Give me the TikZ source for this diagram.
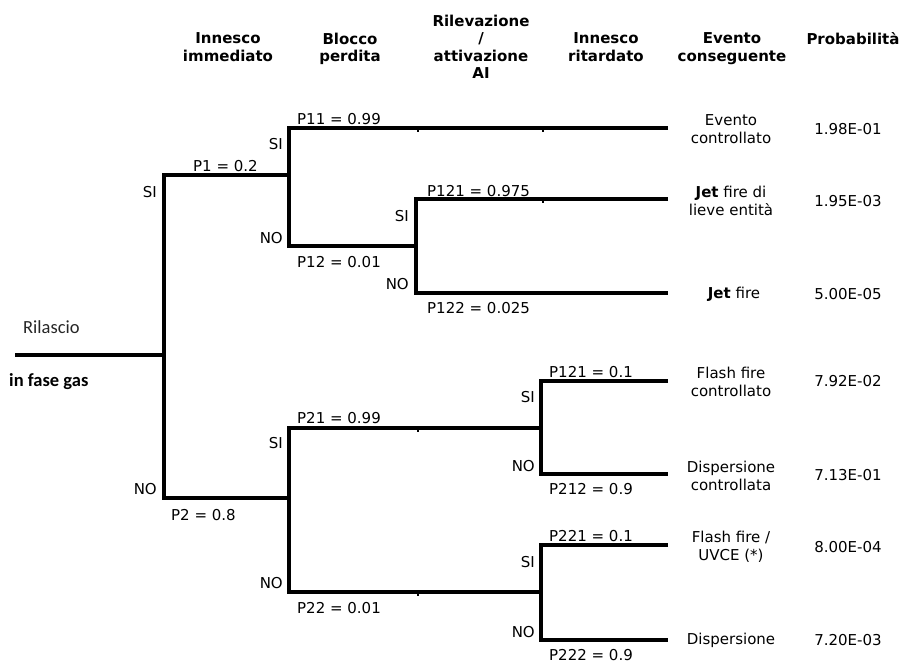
\documentclass[tikz,border=0pt]{standalone}
\usepackage{fontspec}
\setmainfont{DejaVu Sans}
\newfontfamily\calfont{Carlito}
\begin{document}
\begin{tikzpicture}[x=1pt,y=-1pt,
  br/.style={line width=3.2pt, line join=miter, line cap=butt},
  tickmark/.style={line width=1.8pt},
  lab/.style={inner sep=0pt, font=\fontsize{15}{17.5}\selectfont},
  yn/.style={lab, anchor=base east},
  pl/.style={lab, anchor=base west},
  hdr/.style={inner sep=0pt, align=center, anchor=north, font=\fontsize{15}{17.5}\selectfont\bfseries},
  ev/.style={inner sep=0pt, align=center, font=\fontsize{15}{17.5}\selectfont},
  pr/.style={inner sep=0pt, font=\fontsize{15}{17.5}\selectfont},
  rl/.style={inner sep=0pt, anchor=base west, font=\fontsize{18.5}{20}\calfont}]
\useasboundingbox (0,0) rectangle (906,664);

% ---------- headers
\node[hdr] (h1) at (228,32.5) {Innesco\\immediato};
\node[hdr] (h2) at (350,32.5) {Blocco\\perdita};
\node[hdr] (h3) at (481,14.5) {Rilevazione\\/\\attivazione\\AI};
\node[hdr] (h4) at (606,32.5) {Innesco\\ritardato};
\node[hdr] (h5) at (732,32.5) {Evento\\conseguente};
\node[hdr] (h6) at (853,32.5) {Probabilità};

% ---------- tree coordinates
\coordinate (r0) at (15,355);
\coordinate (ra) at (164,355);
\coordinate (at) at (164,175);
\coordinate (ab) at (164,498);
% split B1
\coordinate (b1j) at (289,175);
\coordinate (b1t) at (289,128);
\coordinate (b1b) at (289,246);
% split C1
\coordinate (c1j) at (416,246);
\coordinate (c1t) at (416,199);
\coordinate (c1b) at (416,293);
% split B2
\coordinate (b2j) at (289,498);
\coordinate (b2t) at (289,428);
\coordinate (b2b) at (289,592);
% split D1, D2
\coordinate (d1j) at (541,428);
\coordinate (d1t) at (541,381);
\coordinate (d1b) at (541,474);
\coordinate (d2j) at (541,592);
\coordinate (d2t) at (541,545);
\coordinate (d2b) at (541,640);
% ends
\coordinate (e11) at (668,128);
\coordinate (e121) at (668,199);
\coordinate (e122) at (668,293);
\coordinate (e211) at (668,381);
\coordinate (e212) at (668,474);
\coordinate (e221) at (668,545);
\coordinate (e222) at (668,640);

% ---------- branches
\draw[br] (r0) -- (ra);
\draw[br] (b1j) -- (at) -- (ab) -- (b2j);
\draw[br] (e11) -- (b1t) -- (b1b) -- (c1j);
\draw[br] (e121) -- (c1t) -- (c1b) -- (e122);
\draw[br] (d1j) -- (b2t) -- (b2b) -- (d2j);
\draw[br] (e211) -- (d1t) -- (d1b) -- (e212);
\draw[br] (e221) -- (d2t) -- (d2b) -- (e222);

% small tick marks on the lines
\coordinate (t1) at (418,129); \coordinate (t2) at (543,129);
\coordinate (t3) at (543,200); \coordinate (t4) at (418,429);
\coordinate (t5) at (418,593);
\foreach \t in {t1,t2,t3,t4,t5} \draw[tickmark] (\t) -- ++(0,2.6);

% ---------- SI / NO
\node[yn] (yA) at (157,197) {SI};
\node[yn] (nA) at (157,494) {NO};
\node[yn] (yB1) at (283,149) {SI};
\node[yn] (nB1) at (283,243) {NO};
\node[yn] (yC1) at (409,221) {SI};
\node[yn] (nC1) at (409,289) {NO};
\node[yn] (yB2) at (283,448) {SI};
\node[yn] (nB2) at (283,588) {NO};
\node[yn] (yD1) at (535,402) {SI};
\node[yn] (nD1) at (535,471) {NO};
\node[yn] (yD2) at (535,567) {SI};
\node[yn] (nD2) at (535,637) {NO};

% ---------- probability labels
\node[pl] (p1) at (193,171) {P1 = 0.2};
\node[pl] (p11) at (297,124) {P11 = 0.99};
\node[pl] (p12) at (297,267) {P12 = 0.01};
\node[pl] (p121) at (427,196.5) {P121 = 0.975};
\node[pl] (p122) at (427,313) {P122 = 0.025};
\node[pl] (p2) at (171,520) {P2 = 0.8};
\node[pl] (p21) at (297,423) {P21 = 0.99};
\node[pl] (p22) at (297,613) {P22 = 0.01};
\node[pl] (p211) at (549,377) {P121 = 0.1};
\node[pl] (p212) at (549,494) {P212 = 0.9};
\node[pl] (p221) at (549,541) {P221 = 0.1};
\node[pl] (p222) at (549,660) {P222 = 0.9};

% ---------- release
\node[rl, text=black!85] (rel1) at (23,333) {Rilascio};
\node[rl, font=\fontsize{18.5}{20}\calfont\bfseries] (rel2) at (9,386) {in fase gas};

% ---------- events
\node[ev] (ev1) at (731,129) {Evento\\controllato};
\node[ev] (ev2) at (731,201) {\textbf{Jet} fire di\\lieve entità};
\node[ev] (ev3) at (734,294) {\textbf{Jet} fire};
\node[ev] (ev4) at (731,382) {Flash fire\\controllato};
\node[ev] (ev5) at (731,476) {Dispersione\\controllata};
\node[ev] (ev6) at (731,547) {Flash fire /\\UVCE (*)};
\node[ev] (ev7) at (731,640.5) {Dispersione};

% ---------- frequencies
\node[pr] (f1) at (848,129) {1.98E-01};
\node[pr] (f2) at (848,201.5) {1.95E-03};
\node[pr] (f3) at (848,294) {5.00E-05};
\node[pr] (f4) at (848,381.5) {7.92E-02};
\node[pr] (f5) at (848,475.5) {7.13E-01};
\node[pr] (f6) at (848,547) {8.00E-04};
\node[pr] (f7) at (848,640.5) {7.20E-03};
\end{tikzpicture}
\end{document}
